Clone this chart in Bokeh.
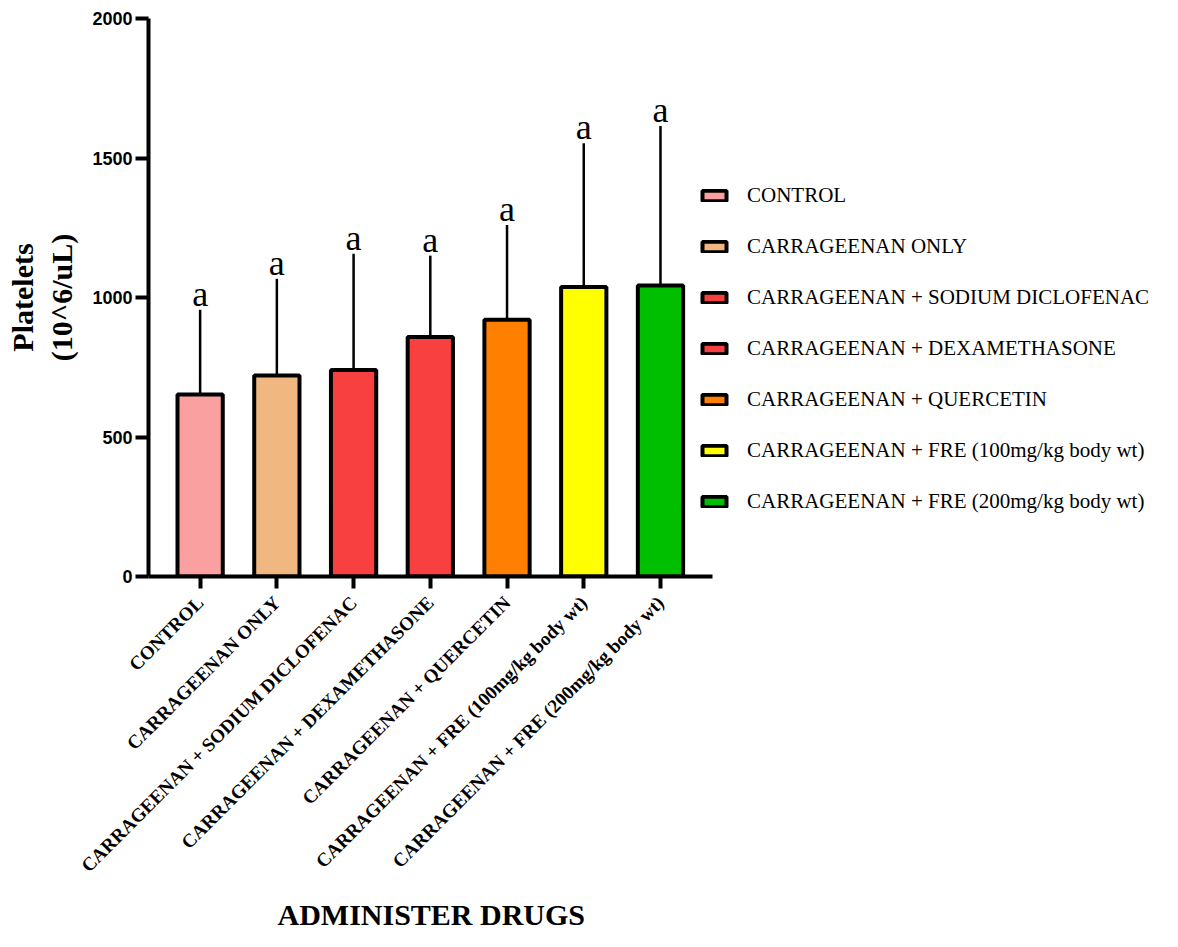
import math
from bokeh.plotting import figure
from bokeh.models import (ColumnDataSource, FixedTicker, Range1d, Legend, LegendItem, Title)
from bokeh.core.properties import value
from bokeh.embed import file_html
from bokeh.resources import INLINE

groups = ["CONTROL", "CARRAGEENAN ONLY", "CARRAGEENAN + SODIUM DICLOFENAC",
          "CARRAGEENAN + DEXAMETHASONE", "CARRAGEENAN + QUERCETIN",
          "CARRAGEENAN + FRE (100mg/kg body wt)", "CARRAGEENAN + FRE (200mg/kg body wt)"]
means = [652, 720, 740, 858, 920, 1038, 1043]
errors = [304, 347, 417, 292, 340, 515, 572]
letters = ["a", "a", "a", "a", "a", "a", "a"]
colors = ["#FAA0A0", "#F0B880", "#F84040", "#F84040", "#FF8000", "#FFFF00", "#00BF00"]
y_ticks = [0, 500, 1000, 1500, 2000]

xs = [i + 1 for i in range(len(groups))]
tops = [m + e for m, e in zip(means, errors)]

src = ColumnDataSource(dict(x=xs, top=means, err_top=tops, color=colors,
                            name=groups, letter=letters))

SERIF = "Liberation Serif"
SANS = "Liberation Sans"

W, H = 1160, 939
LEFT, TOP, RIGHT, BOTTOM = 148, 18, 2, 363
axis_start, axis_end = 0.327, 7.678      # visible x-axis extent (data units)
axis_px = 564                            # its pixel length
frame_w = W - LEFT - RIGHT
x_end = axis_start + frame_w * (axis_end - axis_start) / axis_px

p = figure(width=W, height=H, output_backend="svg", toolbar_location=None,
           x_range=Range1d(axis_start, x_end), y_range=Range1d(0, 2000),
           min_border_left=LEFT, min_border_top=TOP, min_border_right=RIGHT,
           min_border_bottom=BOTTOM)
p.outline_line_color = None
p.grid.visible = False
p.background_fill_color = "white"

bars = p.vbar(x="x", top="top", bottom=0, width=0.59, source=src,
              fill_color="color", line_color="black", line_width=4)
p.segment(x0="x", y0="top", x1="x", y1="err_top", source=src,
          line_color="black", line_width=2.5)
p.text(x="x", y="err_top", text="letter", source=src, text_align="center",
       text_baseline="bottom", y_offset=4, text_font=value(SERIF),
       text_font_size="36px", text_color="black")

# axes
yax = p.yaxis[0]
yax.ticker = FixedTicker(ticks=y_ticks)
yax.axis_line_width = 4
yax.major_tick_line_width = 4
yax.major_tick_out = 13
yax.major_tick_in = 0
yax.minor_tick_line_color = None
yax.major_label_text_font = SANS
yax.major_label_text_font_style = "bold"
yax.major_label_text_font_size = "18px"
yax.major_label_text_color = "black"
yax.major_label_standoff = 3
yax.axis_label = "Platelets\n(10^6/uL)"
yax.axis_label_text_font = SERIF
yax.axis_label_text_font_style = "bold"
yax.axis_label_text_font_size = "30px"
yax.axis_label_text_color = "black"
yax.axis_label_text_line_height = 1.2
yax.axis_label_standoff = 11

xax = p.xaxis[0]
xax.bounds = (axis_start, axis_end)
xax.ticker = FixedTicker(ticks=xs)
xax.major_label_overrides = {x: g for x, g in zip(xs, groups)}
xax.major_label_orientation = math.pi / 4
xax.axis_line_width = 4
xax.major_tick_line_width = 4
xax.major_tick_out = 12
xax.major_tick_in = 0
xax.minor_tick_line_color = None
xax.major_label_text_font = SERIF
xax.major_label_text_font_style = "bold"
xax.major_label_text_font_size = "19px"
xax.major_label_text_color = "black"
xax.major_label_standoff = 11

# x-axis title, placed under the visible axis
p.add_layout(Title(text="ADMINISTER DRUGS", align="left", offset=129,
                   text_font=SERIF, text_font_style="bold", text_font_size="30px",
                   text_color="black", standoff=18), "below")

items = [LegendItem(label=g, renderers=[bars], index=i) for i, g in enumerate(groups)]
legend = Legend(items=items, location=(551, 62), padding=0, margin=0,
                glyph_width=30, glyph_height=13, label_standoff=18,
                label_height=21, spacing=26,
                label_text_font=SERIF, label_text_font_size="21px",
                label_text_color="black",
                border_line_alpha=0, background_fill_alpha=0)
p.add_layout(legend, "center")

open("out.html", "w").write(file_html(p, INLINE))
